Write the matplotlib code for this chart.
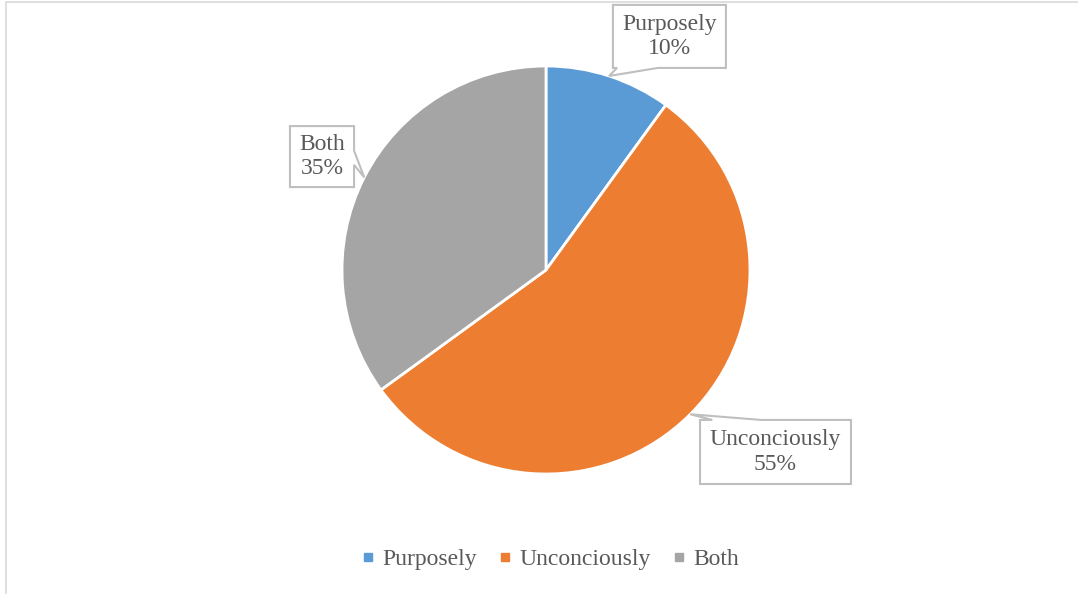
import matplotlib.pyplot as plt
from matplotlib.patches import Polygon, Rectangle
from matplotlib.lines import Line2D
import numpy as np

plt.rcParams['font.family'] = ['Liberation Serif', 'DejaVu Serif']

labels = ['Purposely', 'Unconciously', 'Both']
shares = [10, 55, 35]
colors = ['#5B9BD5', '#ED7D31', '#A5A5A5']

W, H = 1078, 594
R = 204.0                 # pie radius in pixels
cx, cy = 546, 270         # pie centre (pixels, from top)

fig = plt.figure(figsize=(W / 100, H / 100), dpi=100)
ax = fig.add_axes([0, 0, 1, 1])

# light chart-area border
fig.patches.append(Rectangle((6 / W, -0.01), 1.02, 1 - 2 / H + 0.01,
                             transform=fig.transFigure, fill=False,
                             ec='#D9D9D9', lw=1.2))

wedges, _ = ax.pie(shares, colors=colors, startangle=90, counterclock=False,
                   radius=1, center=(0, 0),
                   wedgeprops=dict(edgecolor='white', linewidth=2))
ax.set_xlim(-cx / R, (W - cx) / R)
ax.set_ylim(-(H - cy) / R, cy / R)
ax.axis('off')

# callout boxes: centre (x, y), size (w, h), side the pointer leaves from,
# and pointer base offsets along that side (data units)
callouts = [
    dict(c=(0.605, 1.145), s=(0.554, 0.309), side='bottom', base=(0.02, 0.22)),
    dict(c=(1.125, -0.892), s=(0.740, 0.314), side='top', base=(0.06, 0.30)),
    dict(c=(-1.098, 0.556), s=(0.314, 0.299), side='right', base=(0.12, 0.19)),
]

for w, lab, val, co in zip(wedges, labels, shares, callouts):
    mid = np.deg2rad((w.theta1 + w.theta2) / 2)
    tip = (np.cos(mid), np.sin(mid))
    x0 = co['c'][0] - co['s'][0] / 2
    x1 = co['c'][0] + co['s'][0] / 2
    y0 = co['c'][1] - co['s'][1] / 2
    y1 = co['c'][1] + co['s'][1] / 2
    b0, b1 = co['base']
    if co['side'] == 'bottom':
        pts = [(x0, y1), (x1, y1), (x1, y0), (x0 + b1, y0), tip, (x0 + b0, y0), (x0, y0)]
    elif co['side'] == 'top':
        pts = [(x0, y0), (x1, y0), (x1, y1), (x0 + b1, y1), tip, (x0 + b0, y1), (x0, y1)]
    else:
        pts = [(x0, y1), (x1, y1), (x1, y1 - b0), tip, (x1, y1 - b1), (x1, y0), (x0, y0)]
    ax.add_patch(Polygon(pts, closed=True, fc='white', ec='#BFBFBF', lw=1.5,
                         zorder=5, joinstyle='miter'))
    ax.text(co['c'][0], co['c'][1], f'{lab}\n{val}%', ha='center', va='center',
            fontsize=17, color='#595959', linespacing=1.2, zorder=6)

handles = [Line2D([], [], marker='s', ls='none', color=c, markersize=6) for c in colors]
fig.legend(handles, labels, loc='center', bbox_to_anchor=(550 / W, 1 - 559 / H),
           ncol=3, frameon=False, fontsize=17, labelcolor='#595959',
           handlelength=0.6, handletextpad=0.3, columnspacing=0.9)

fig.savefig('out.png', dpi=100)
